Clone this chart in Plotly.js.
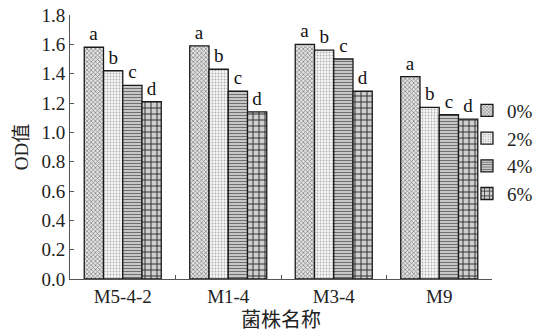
<!DOCTYPE html>
<html>
<head>
<meta charset="utf-8">
<script src="https://cdn.plot.ly/plotly-3.0.1.min.js"></script>
<style>html,body{margin:0;padding:0;background:#fff;}#chart{width:537px;height:332px;}</style>
</head>
<body>
<div id="chart"></div>
<script>
const categories = ["M5-4-2", "M1-4", "M3-4", "M9"];
const seriesNames = ["0%", "2%", "4%", "6%"];
const od0 = [1.58, 1.59, 1.60, 1.38];
const od2 = [1.42, 1.43, 1.56, 1.17];
const od4 = [1.32, 1.28, 1.50, 1.12];
const od6 = [1.21, 1.14, 1.28, 1.09];
const letters0 = ["a", "a", "a", "a"];
const letters2 = ["b", "b", "b", "b"];
const letters4 = ["c", "c", "c", "c"];
const letters6 = ["d", "d", "d", "d"];
const yTitle = "OD值";
const xTitle = "菌株名称";

const values = [od0, od2, od4, od6];
const letters = [letters0, letters2, letters4, letters6];
const patterns = [
  {shape: "x", size: 3, solidity: 0.4, fgcolor: "#7a7a7a", bgcolor: "#e4e4e4"},
  {shape: ".", size: 3, solidity: 0.3, fgcolor: "#b0b0b0", bgcolor: "#f7f7f7"},
  {shape: "-", size: 3, solidity: 0.45, fgcolor: "#6f6f6f", bgcolor: "#dadada"},
  {shape: "+", size: 6, solidity: 0.3, fgcolor: "#2e2e2e", bgcolor: "#cfcfcf"}
];

const serif = "Liberation Serif, Times New Roman, Noto Sans CJK SC, serif";

const traces = values.map((v, i) => ({
  type: "bar",
  name: seriesNames[i],
  x: categories,
  y: v,
  text: letters[i],
  textposition: "outside",
  constraintext: "none",
  cliponaxis: false,
  textfont: {family: serif, size: 19, color: "#111"},
  marker: {
    color: patterns[i].bgcolor,
    line: {color: "#1a1a1a", width: 1.3},
    pattern: patterns[i]
  },
  hoverinfo: "none"
}));

const layout = {
  width: 537,
  height: 332,
  margin: {l: 70, r: 45, t: 15, b: 53, autoexpand: false},
  paper_bgcolor: "#fff",
  plot_bgcolor: "#fff",
  barmode: "group",
  bargap: 0.27,
  bargroupgap: 0,
  showlegend: true,
  font: {family: serif, size: 18, color: "#222"},
  legend: {
    xref: "container", yref: "container",
    x: 0.8696, xanchor: "left", y: 0.542, yanchor: "middle",
    font: {family: serif, size: 19, color: "#222"},
    bgcolor: "rgba(0,0,0,0)",
    itemwidth: 30,
    tracegroupgap: 0
  },
  xaxis: {
    type: "category",
    showline: true, linecolor: "#555", linewidth: 1,
    ticks: "inside", ticklen: 4, tickcolor: "#555",
    tickson: "boundaries",
    showgrid: false, zeroline: false,
    tickfont: {family: serif, size: 19, color: "#222"},
    title: {text: xTitle, font: {family: serif, size: 20, color: "#222"}, standoff: 7}
  },
  yaxis: {
    range: [0, 1.8],
    dtick: 0.2,
    tickformat: ".1f",
    showline: true, linecolor: "#555", linewidth: 1,
    ticks: "inside", ticklen: 4, tickcolor: "#555",
    showgrid: false, zeroline: false,
    tickfont: {family: serif, size: 19, color: "#222"},
    title: {text: yTitle, font: {family: serif, size: 19, color: "#222"}, standoff: 7}
  }
};

Plotly.newPlot("chart", traces, layout, {displayModeBar: false, staticPlot: true});
</script>
</body>
</html>
